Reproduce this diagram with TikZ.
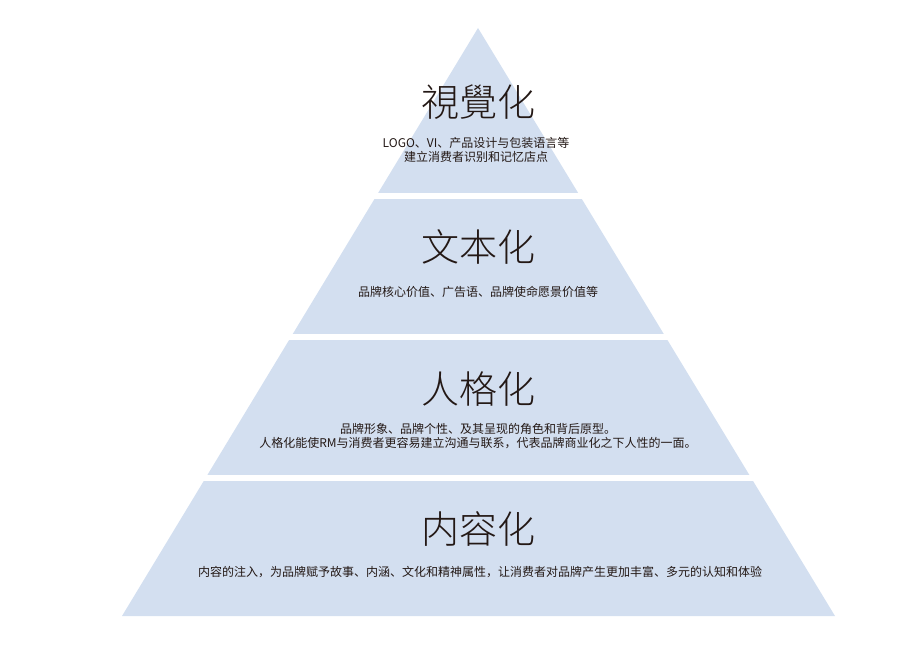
\documentclass[tikz,border=0pt]{standalone}
\usepackage{fontspec}
\newfontfamily\cjk{Noto Sans CJK SC}
\IfFontExistsTF{Noto Sans CJK SC Light}
  {\newfontfamily\cjklight{Noto Sans CJK SC Light}}
  {\newfontfamily\cjklight{Noto Sans CJK SC}}
\definecolor{layerblue}{HTML}{D3DFF0}
\definecolor{inkdark}{HTML}{231815}
\tikzset{
  layertitle/.style={font=\cjklight\fontsize{28.5}{30}\selectfont, text=inkdark, inner sep=0pt},
  layertext/.style={font=\cjk\fontsize{9}{11}\selectfont, text=inkdark, align=center, inner sep=0pt},
}
\begin{document}
\begin{tikzpicture}[x=0.75pt, y=-0.75pt]

\useasboundingbox (0, 0) rectangle (912, 666);

\fill[layerblue] (478, 28) -- (835, 616) -- (122, 616) -- cycle;
\foreach \y in {196, 337, 478}
  \draw[white, line width=4.5pt] (100, \y) -- (860, \y);

\node[layertitle] (visual) at (478, 102) {視覺化};
\node[layertext] (visualtext) at (476, 150) {LOGO、VI、产品设计与包装语言等\\建立消费者识别和记忆店点};

\node[layertitle] (textual) at (478, 247) {文本化};
\node[layertext] (textualtext) at (478, 292) {品牌核心价值、广告语、品牌使命愿景价值等};

\node[layertitle] (persona) at (478, 389) {人格化};
\node[layertext] (personatext) at (478, 436) {品牌形象、品牌个性、及其呈现的角色和背后原型。\\人格化能使RM与消费者更容易建立沟通与联系，代表品牌商业化之下人性的一面。};

\node[layertitle] (content) at (478, 529) {内容化};
\node[layertext] (contenttext) at (480, 572) {内容的注入，为品牌赋予故事、内涵、文化和精神属性，让消费者对品牌产生更加丰富、多元的认知和体验};

\end{tikzpicture}
\end{document}
